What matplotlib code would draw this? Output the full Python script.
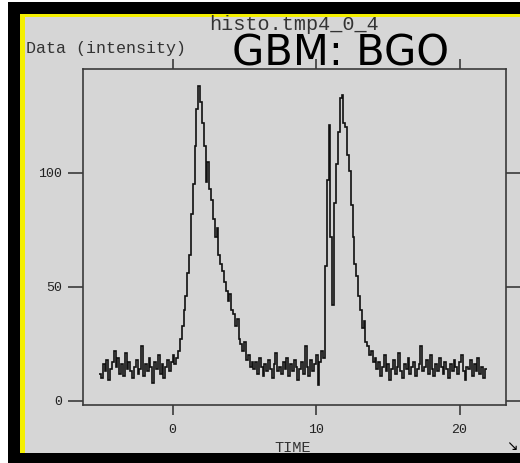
import numpy as np
import matplotlib
matplotlib.use('Agg')
import matplotlib.pyplot as plt
from matplotlib.patches import Rectangle

# light curve: counts per 0.128 s bin, starting at t = -5.12 s
t_start = -5.12
bin_width = 0.128

pre_burst = [12, 10, 16, 13, 18, 9, 14, 17, 22, 15,
             19, 12, 16, 11, 21, 14, 17, 13, 10, 15,
             18, 12, 14, 24, 11, 16, 13, 19, 15, 8,
             17, 14, 20, 12, 16, 10, 15, 18, 13, 17,
             20, 16]
pulse_1 = [19, 22, 27, 33, 40, 46, 56, 64, 82, 95,
           112, 128, 138, 131, 122, 112, 96, 105, 93, 88,
           80, 72, 76, 64, 60, 57, 52, 48, 44, 47,
           40, 38, 33, 36, 27, 25, 22, 26, 18, 20,
           15, 17]
between = [14, 17, 12, 19, 15, 11, 16, 13, 18, 14,
           10, 16, 21, 13, 15, 12, 17, 14, 19, 11,
           16, 13, 18, 15, 9, 14, 17, 12, 24, 15,
           11, 18, 13, 16, 20, 7, 17, 22, 19]
pulse_2 = [59, 97, 121, 72, 42, 87, 104, 118, 133, 134,
           122, 120, 108, 101, 86, 72, 60, 55, 46, 40,
           32, 35, 26, 24, 20, 22, 17, 19]
post_burst = [14, 17, 11, 15, 20, 13, 16, 9, 14, 18,
              12, 15, 21, 13, 10, 16, 14, 19, 12, 15,
              17, 11, 14, 16, 24, 13, 15, 18, 12, 20,
              14, 11, 16, 13, 19, 15, 12, 17, 14, 10,
              16, 13, 18, 15, 12, 17, 20, 13, 9, 15,
              14, 18, 11, 16, 13, 19, 12, 15, 10, 14]

x_ticks = [0, 10, 20]
y_ticks = [0, 50, 100]

counts = np.array(pre_burst + pulse_1 + between + pulse_2 + post_burst, dtype=float)
edges = t_start + bin_width * np.arange(len(counts) + 1)

W, H = 520, 463
fig = plt.figure(figsize=(W / 100, H / 100), dpi=100, facecolor='white')
bg = '#d6d6d6'

# window frame: black outer, yellow inner edge, gray panel
fig.patches.append(Rectangle((8 / W, 0), 1, 461 / H, transform=fig.transFigure,
                             facecolor='black', edgecolor='none', zorder=-3))
fig.patches.append(Rectangle((20 / W, 1 - 453 / H), 1, (453 - 14) / H, transform=fig.transFigure,
                             facecolor='#f5f000', edgecolor='none', zorder=-2))
fig.patches.append(Rectangle((25 / W, 1 - 453 / H), 1, (453 - 17) / H, transform=fig.transFigure,
                             facecolor=bg, edgecolor='none', zorder=-1))

ax = fig.add_axes([83 / W, 1 - 405 / H, (506 - 83) / W, (405 - 69) / H])
ax.set_facecolor(bg)

ax.stairs(counts, edges, baseline=None, color='#111111', linewidth=1.2)

ax.set_xlim(-6.24, 23.24)
ax.set_ylim(-1.8, 145.6)
ax.set_xticks(x_ticks)
ax.set_yticks(y_ticks)

mono = 'Liberation Mono'
for s in ax.spines.values():
    s.set_color('#3a3a3a')
    s.set_linewidth(1.2)
ax.tick_params(axis='x', direction='out', length=7, width=1.2, color='#3a3a3a',
               top=True, pad=7, labelsize=9.5, labelcolor='#222222')
ax.tick_params(axis='y', direction='out', length=11, width=1.2, color='#3a3a3a',
               right=True, pad=4, labelsize=9.5, labelcolor='#222222')
for lab in ax.get_xticklabels() + ax.get_yticklabels():
    lab.set_family(mono)

fig.text(294 / W, 1 - 25 / H, 'histo.tmp4_0_4', family=mono, fontsize=14.5,
         color='#333333', ha='center', va='center')
fig.text(26 / W, 1 - 48 / H, 'Data (intensity)', family=mono, fontsize=12,
         color='#333333', ha='left', va='center')
fig.text(232 / W, 1 - 54 / H, 'GBM: BGO', family='DejaVu Sans', fontsize=30,
         color='black', ha='left', va='center')
fig.text(293 / W, 1 - 448 / H, 'TIME', family=mono, fontsize=11,
         color='#333333', ha='center', va='center')
fig.text(512 / W, 1 - 446 / H, '\u2198', family='DejaVu Sans', fontsize=10,
         color='black', ha='center', va='center')

fig.savefig('out.png', dpi=100, facecolor=fig.get_facecolor())
